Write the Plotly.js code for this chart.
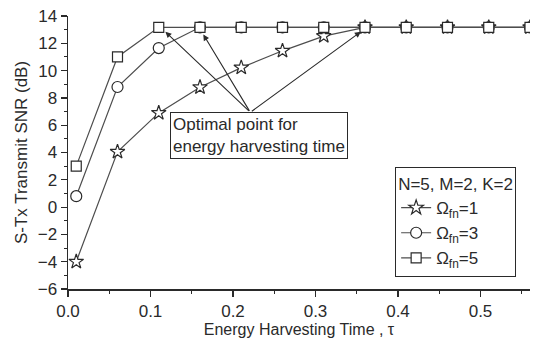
<!DOCTYPE html>
<html>
<head>
<meta charset="utf-8">
<script src="https://cdn.plot.ly/plotly-3.0.1.min.js"></script>
<style>html,body{margin:0;padding:0;background:#fff;}#chart{width:544px;height:340px;}</style>
</head>
<body>
<div id="chart"></div>
<script>
// ---- data ----
const tau = [0.01, 0.06, 0.11, 0.16, 0.21, 0.26, 0.31, 0.36, 0.41, 0.46, 0.51, 0.56];
const snrOmega1 = [-4.0, 4.05, 6.9, 8.78, 10.22, 11.45, 12.53, 13.17, 13.17, 13.17, 13.17, 13.17];
const snrOmega3 = [0.8, 8.8, 11.65, 13.17, 13.17, 13.17, 13.17, 13.17, 13.17, 13.17, 13.17, 13.17];
const snrOmega5 = [3.0, 11.0, 13.17, 13.17, 13.17, 13.17, 13.17, 13.17, 13.17, 13.17, 13.17, 13.17];
const seriesNames = ['Ω<sub>fn</sub>=1', 'Ω<sub>fn</sub>=3', 'Ω<sub>fn</sub>=5'];
const legendTitle = 'N=5, M=2, K=2';
const xTitle = 'Energy Harvesting Time , τ';
const yTitle = 'S-Tx Transmit SNR (dB)';
const noteText = 'Optimal point for<br>energy harvesting time';
// optimal points the arrows point to, and the arrows' common tail
const optX = [0.118, 0.164, 0.355];
const optY = [12.85, 12.65, 12.85];
const tailX = 0.221, tailY = 6.94;
const noteX = 0.232, noteY = 5.25;

const font = 'Liberation Sans, Arial, Helvetica, sans-serif';
const ink = '#2a2a2a';
const lineCol = '#4d4d4d';

function mk(y, name, symbol, size) {
  return {
    x: tau, y: y, name: name, type: 'scatter', mode: 'lines+markers',
    line: {color: lineCol, width: 1.2},
    marker: {symbol: symbol, size: size, color: '#ffffff', line: {color: ink, width: 1.2}}
  };
}
const traces = [
  mk(snrOmega1, seriesNames[0], 'star', 11),
  mk(snrOmega3, seriesNames[1], 'circle', 11),
  mk(snrOmega5, seriesNames[2], 'square', 10)
];

const annotations = optX.map((x, i) => ({
  x: x, y: optY[i], xref: 'x', yref: 'y',
  ax: tailX, ay: tailY, axref: 'x', ayref: 'y',
  text: '', showarrow: true, arrowhead: 2, arrowsize: 1.1, arrowwidth: 1.1,
  arrowcolor: ink, standoff: 0, startstandoff: 0
}));
annotations.push({
  x: noteX, y: noteY, xref: 'x', yref: 'y', xanchor: 'center', yanchor: 'middle',
  text: noteText, showarrow: false, align: 'left',
  font: {family: font, size: 17, color: ink},
  bgcolor: '#ffffff', bordercolor: ink, borderwidth: 1, borderpad: 2
});

const axisCommon = {
  showline: true, linecolor: ink, linewidth: 1.5, showgrid: false, zeroline: false,
  tickfont: {family: font, size: 17, color: ink}, tickcolor: ink
};

const layout = {
  width: 544, height: 340,
  margin: {l: 68, r: 14, t: 16, b: 51},
  paper_bgcolor: '#ffffff', plot_bgcolor: '#ffffff',
  font: {family: font, color: ink},
  showlegend: true,
  legend: {
    x: 0.97, y: 0.044, xanchor: 'right', yanchor: 'bottom',
    bgcolor: '#ffffff', bordercolor: ink, borderwidth: 1,
    font: {family: font, size: 17, color: ink},
    title: {text: legendTitle, font: {family: font, size: 17, color: ink}},
    itemwidth: 30, tracegroupgap: 0
  },
  xaxis: Object.assign({}, axisCommon, {
    range: [0, 0.56], dtick: 0.1, tick0: 0, tickformat: '.1f',
    ticks: 'outside', ticklen: 6, tickwidth: 1.2,
    minor: {dtick: 0.05, tick0: 0, ticks: 'outside', ticklen: 3, tickcolor: ink, tickwidth: 1},
    title: {text: xTitle, font: {family: font, size: 16, color: ink}, standoff: 2}
  }),
  yaxis: Object.assign({}, axisCommon, {
    range: [-6, 14], dtick: 2, tick0: 0,
    ticks: 'outside', ticklen: 6, tickwidth: 1.2,
    minor: {dtick: 1, tick0: 0, ticks: 'outside', ticklen: 3, tickcolor: ink, tickwidth: 1},
    title: {text: yTitle, font: {family: font, size: 17, color: ink}, standoff: 6}
  }),
  xaxis2: Object.assign({}, axisCommon, {
    overlaying: 'x', side: 'top', range: [0, 0.56], dtick: 0.1, tick0: 0,
    ticks: 'inside', ticklen: 6, tickwidth: 1.2, showticklabels: false,
    minor: {dtick: 0.05, tick0: 0, ticks: 'inside', ticklen: 3, tickcolor: ink, tickwidth: 1}
  }),
  yaxis2: Object.assign({}, axisCommon, {
    overlaying: 'y', side: 'right', range: [-6, 14], dtick: 2, tick0: 0,
    ticks: 'inside', ticklen: 6, tickwidth: 1.2, showticklabels: false,
    minor: {dtick: 1, tick0: 0, ticks: 'inside', ticklen: 3, tickcolor: ink, tickwidth: 1}
  }),
  annotations: annotations
};

Plotly.newPlot('chart', traces, layout, {displayModeBar: false, staticPlot: true});
</script>
</body>
</html>
